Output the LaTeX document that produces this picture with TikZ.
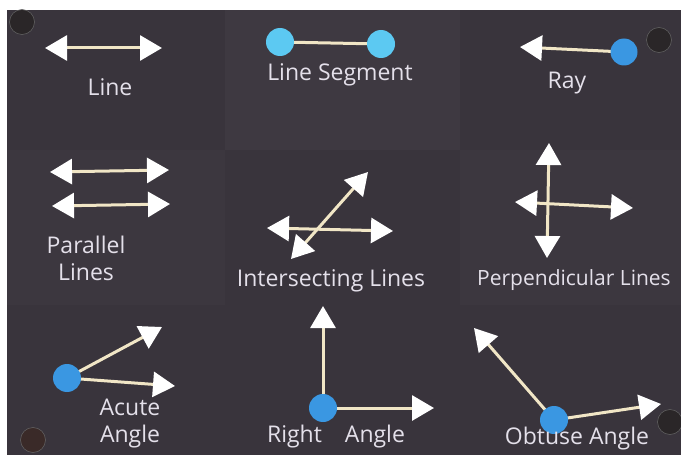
\documentclass[tikz,border=0pt]{standalone}
\usepackage{fontspec}
\setmainfont{Open Sans}
\usetikzlibrary{arrows.meta}
\definecolor{poster}{HTML}{39343C}
\definecolor{posterlight}{HTML}{3E3941}
\definecolor{pin}{HTML}{2A2628}
\definecolor{pinbrown}{HTML}{3A2A28}
\definecolor{chalk}{HTML}{E4E0EA}
\definecolor{stick}{HTML}{F1E6C6}
\definecolor{lightdot}{HTML}{5CC9F2}
\definecolor{bluedot}{HTML}{3A97E2}
\tikzset{
  shaft/.style={line width=3pt, draw=stick},
  head/.tip={Triangle[length=22pt,width=25pt,color=white]},
  both/.style={shaft, head-head},
  one/.style={shaft, -head},
  dot/.style={circle, fill=#1, draw=none, minimum size=28pt, inner sep=0pt},
  pinstyle/.style={circle, fill=#1, draw=black!60, line width=0.5pt, minimum size=25pt, inner sep=0pt},
  lbl/.style={text=chalk, font=\fontsize{23}{27}\selectfont, align=center, inner sep=0pt}
}
\begin{document}
\begin{tikzpicture}[x=1pt,y=-1pt]
\useasboundingbox (0,0) rectangle (681,460);
\fill[white] (0,0) rectangle (681,460);
% poster
\fill[poster] (7,10) rectangle (681,455);
\fill[posterlight] (225,10) rectangle (460,150);
\fill[posterlight!60!poster] (460,150) rectangle (681,305);
\fill[posterlight!60!poster] (7,150) rectangle (225,305);
% pins
\node[pinstyle=pin] (pinTL) at (22,22) {};
\node[pinstyle=pin] (pinTR) at (659,40) {};
\node[pinstyle=pinbrown] (pinBL) at (33,440) {};
\node[pinstyle=pin] (pinBR) at (670,422) {};

% Line
\coordinate (lineA) at (45,48);
\coordinate (lineB) at (162,48);
\draw[both] (lineA) -- (lineB);
\node[lbl] (lineL) at (110,87) {Line};

% Line segment
\coordinate (segA) at (280,42);
\coordinate (segB) at (381,44);
\draw[shaft] (segA) -- (segB);
\node[dot=lightdot] (segDotA) at (segA) {};
\node[dot=lightdot] (segDotB) at (segB) {};
\node[lbl] (segL) at (340,75) {Line Segment};

% Ray
\coordinate (rayV) at (624,52);
\coordinate (rayE) at (520,47);
\draw[one] (rayV) -- (rayE);
\node[dot=bluedot, minimum size=27pt] (rayDot) at (rayV) {};
\node[lbl] (rayL) at (567,83) {Ray};

% Parallel lines
\coordinate (parA1) at (50,172);
\coordinate (parB1) at (169,170);
\coordinate (parA2) at (52,206);
\coordinate (parB2) at (170,204);
\draw[both] (parA1) -- (parB1);
\draw[both] (parA2) -- (parB2);
\node[lbl] (parL) at (86,258) {Parallel\\Lines};

% Intersecting lines
\coordinate (intA) at (267,228);
\coordinate (intB) at (393,231);
\coordinate (intC) at (368,172);
\coordinate (intD) at (291,259);
\draw[both] (intA) -- (intB);
\draw[both] (intC) -- (intD);
\node[lbl] (intL) at (331,281) {Intersecting Lines};

% Perpendicular lines
\coordinate (perA) at (549,143);
\coordinate (perB) at (547,258);
\coordinate (perC) at (515,202);
\coordinate (perD) at (633,208);
\draw[both] (perA) -- (perB);
\draw[both] (perC) -- (perD);
\node[lbl, font=\fontsize{21}{25}\selectfont] (perL) at (574,280) {Perpendicular Lines};

% Acute angle
\coordinate (acV) at (67,378);
\coordinate (acE1) at (162,327);
\coordinate (acE2) at (175,386);
\draw[one] (acV) -- (acE1);
\draw[one] (acV) -- (acE2);
\node[dot=bluedot] (acDot) at (acV) {};
\node[lbl] (acL) at (130,424) {Acute\\Angle};

% Right angle
\coordinate (rtV) at (323,408);
\coordinate (rtE1) at (323,306);
\coordinate (rtE2) at (434,408);
\draw[one] (rtV) -- (rtE1);
\draw[one] (rtV) -- (rtE2);
\node[dot=bluedot] (rtDot) at (rtV) {};
\node[lbl] (rtL) at (336,437) {Right\quad Angle};

% Obtuse angle
\coordinate (obV) at (554,420);
\coordinate (obE1) at (474,328);
\coordinate (obE2) at (661,404);
\draw[one] (obV) -- (obE1);
\draw[one] (obV) -- (obE2);
\node[dot=bluedot] (obDot) at (obV) {};
\node[lbl] (obL) at (577,439) {Obtuse Angle};
\end{tikzpicture}
\end{document}
